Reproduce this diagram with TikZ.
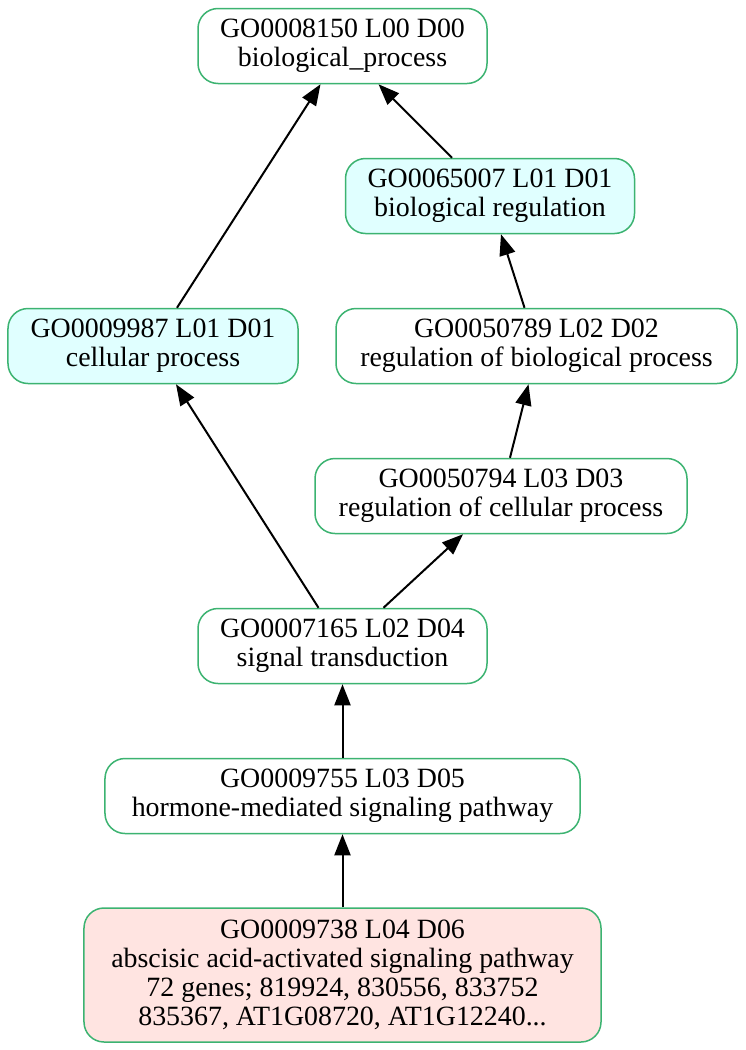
\documentclass[tikz,border=0pt]{standalone}
\usepackage{fontspec}
\setmainfont{Liberation Serif}
\usetikzlibrary{arrows.meta}
\definecolor{goborder}{RGB}{60, 179, 113}
\definecolor{golightcyan}{RGB}{224, 255, 255}
\definecolor{gomistyrose}{RGB}{255, 228, 225}

\begin{document}
\begin{tikzpicture}[x=1bp, y=-1bp,
    term/.style={draw=goborder, line width=1.5bp, fill=white, rounded corners=20bp, minimum height=75bp, inner xsep=4bp, inner ysep=2bp, align=center, font=\fontsize{28}{29.3}\selectfont},
    lvlone/.style={term, fill=golightcyan},
    study/.style={term, fill=gomistyrose, minimum height=134bp},
    arr/.style={-{Triangle[length=21bp, width=16bp]}, line width=2bp}
]
    \useasboundingbox (0,0) rectangle (746,1050);

    % Root and level one
    \node[term, minimum width=289bp] (go8150) at (342.5, 46) {GO0008150 L00 D00\\biological\_process};
    \node[lvlone, minimum width=289bp] (go65007) at (490, 196) {GO0065007 L01 D01\\biological regulation};
    \node[lvlone, minimum width=290bp] (go9987) at (153, 346) {GO0009987 L01 D01\\cellular process};

    % Regulation branch
    \node[term, minimum width=401bp] (go50789) at (536.5, 346) {GO0050789 L02 D02\\regulation of biological process};
    \node[term, minimum width=372bp] (go50794) at (501, 496) {GO0050794 L03 D03\\regulation of cellular process};

    % Signalling chain
    \node[term, minimum width=289bp] (go7165) at (342.5, 646) {GO0007165 L02 D04\\signal transduction};
    \node[term, minimum width=475bp] (go9755) at (342.5, 796) {GO0009755 L03 D05\\hormone-mediated signaling pathway};
    \node[study, minimum width=517bp] (go9738) at (342.5, 975) {GO0009738 L04 D06\\abscisic acid-activated signaling pathway\\72 genes; 819924, 830556, 833752\\835367, AT1G08720, AT1G12240...};

    % is_a edges, child -> parent
    \draw[arr] ([xshift=24bp]go9987.north) -- ([xshift=-22bp]go8150.south);
    \draw[arr] ([xshift=-38bp]go65007.north) -- ([xshift=36bp]go8150.south);
    \draw[arr] ([xshift=-12bp]go50789.north) -- ([xshift=11bp]go65007.south);
    \draw[arr] ([xshift=9bp]go50794.north) -- ([xshift=-8bp]go50789.south);
    \draw[arr] ([xshift=-24bp]go7165.north) -- ([xshift=23bp]go9987.south);
    \draw[arr] ([xshift=41bp]go7165.north) -- ([xshift=-38bp]go50794.south);
    \draw[arr] (go9755.north) -- (go7165.south);
    \draw[arr] (go9738.north) -- (go9755.south);
\end{tikzpicture}
\end{document}
